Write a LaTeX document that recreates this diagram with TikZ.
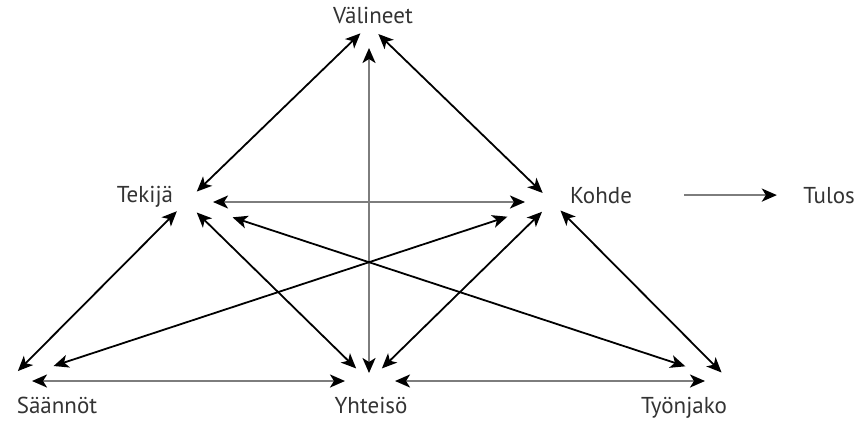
\documentclass[tikz,border=0pt]{standalone}
\usepackage{fontspec}
\setmainfont{PT Sans}
\usetikzlibrary{arrows.meta}
\definecolor{linegray}{RGB}{125,125,125}

\begin{document}
\begin{tikzpicture}[x=0.5pt, y=-0.5pt,
    >={Stealth[length=7.5pt, width=6.5pt, inset=2pt, color=black]},
    every node/.style={font=\fontsize{11.5}{13}\selectfont, text=black!80, anchor=base, inner sep=0pt},
    link/.style={<->, line width=0.9pt, black},
    flat/.style={<->, line width=1.1pt, linegray}]
    \useasboundingbox (0,0) rectangle (854,423);
    % Corners
    \coordinate (V) at (369,25);
    \coordinate (T) at (186,202);
    \coordinate (K) at (552,202);
    \coordinate (S) at (8,381);
    \coordinate (Y) at (369,381);
    \coordinate (J) at (730,381);
    % Labels
    \node (valineet) at (373,23) {Välineet};
    \node (tekija) at (145,202) {Tekijä};
    \node (kohde) at (601,203) {Kohde};
    \node (tulos) at (829,203) {Tulos};
    \node (saannot) at (57,413) {Säännöt};
    \node (yhteiso) at (371,413) {Yhteisö};
    \node (tyonjako) at (684,413) {Työnjako};
    % Upper triangle
    \draw [link, shorten <=6pt, shorten >=7.5pt] (V) -- (T);
    \draw [link, shorten <=6.5pt, shorten >=6.5pt] (V) -- (K);
    \draw [flat, shorten <=11.5pt, shorten >=4pt] (V) -- (Y);
    \draw [flat, shorten <=13.5pt, shorten >=13.5pt] (T) -- (K);
    % Lower triangle
    \draw [link, shorten <=6.5pt, shorten >=7pt] (T) -- (S);
    \draw [link, shorten <=7.5pt, shorten >=9pt] (T) -- (Y);
    \draw [link, shorten <=24.5pt, shorten >=23.5pt] (T) -- (J);
    \draw [link, shorten <=23.5pt, shorten >=24pt] (K) -- (S);
    \draw [link, shorten <=7pt, shorten >=9pt] (K) -- (Y);
    \draw [link, shorten <=6pt, shorten >=6pt] (K) -- (J);
    \draw [flat, shorten <=12pt, shorten >=12pt] (S) -- (Y);
    \draw [flat, shorten <=13pt, shorten >=12.5pt] (Y) -- (J);
    % Outcome
    \draw [flat, -{Stealth[length=7.5pt, width=6.5pt, inset=2pt, color=black]}, shorten <=26pt, shorten >=13pt] (kohde.east) -- (tulos.west);
\end{tikzpicture}
\end{document}
